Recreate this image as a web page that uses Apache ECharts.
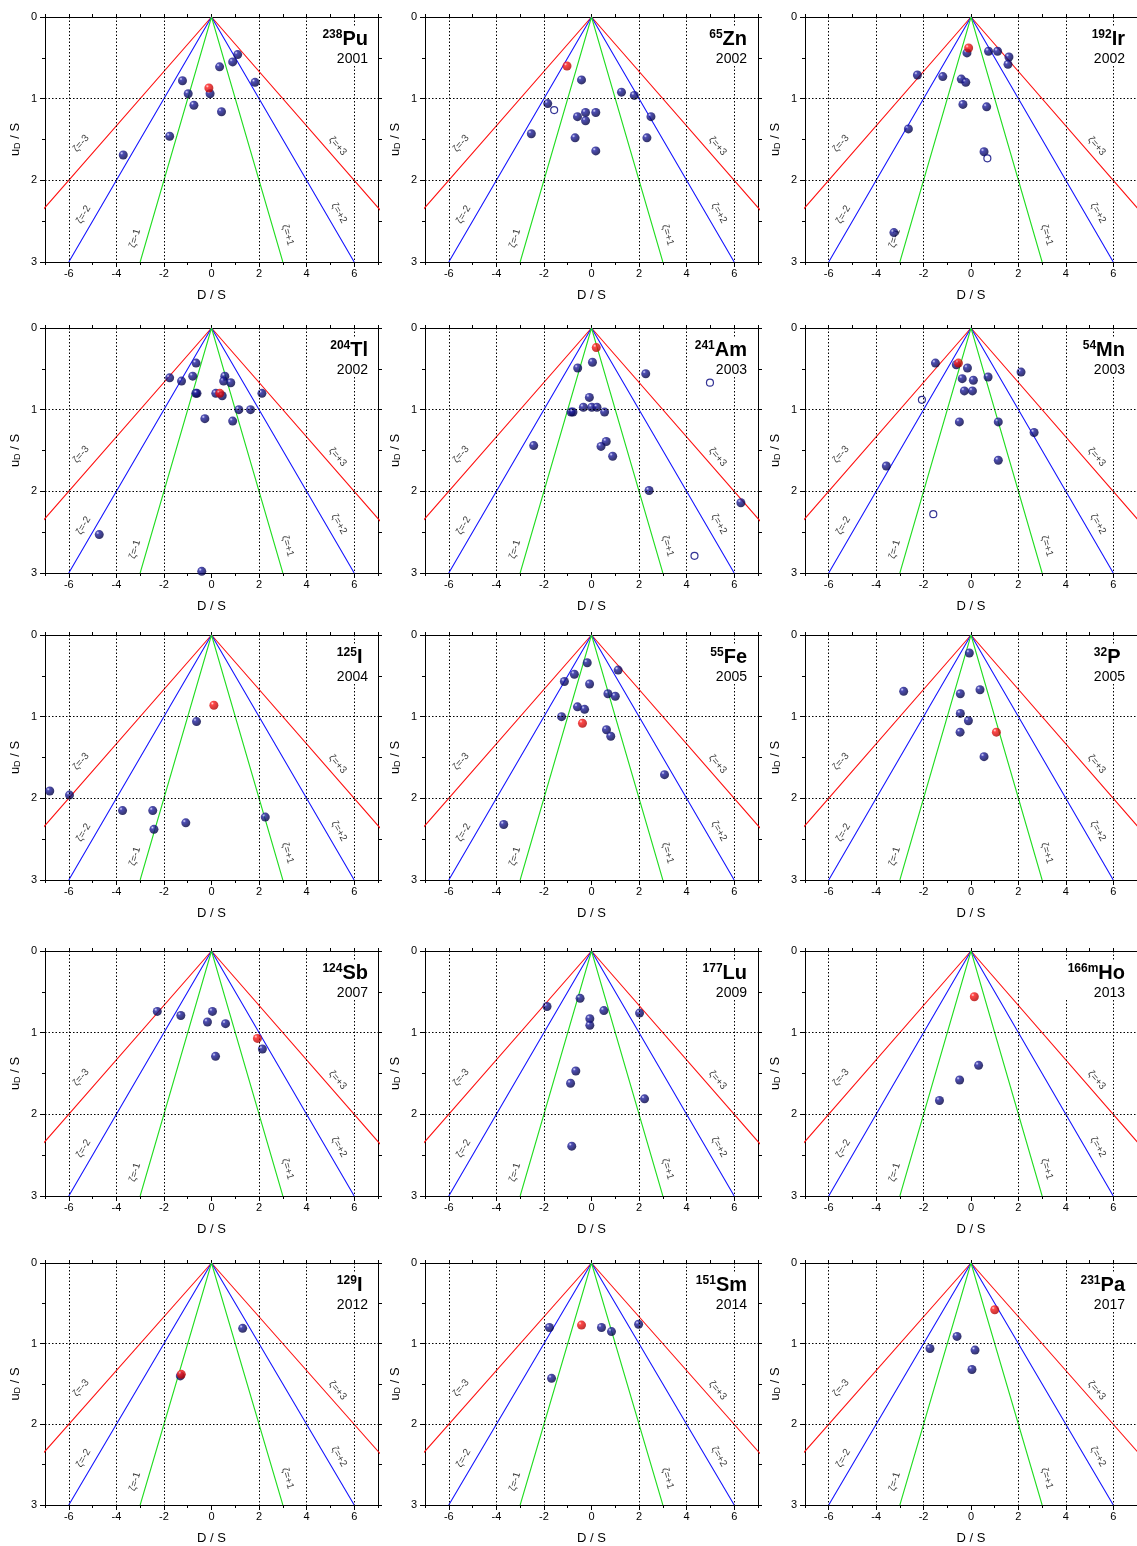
<!DOCTYPE html>
<html>
<head>
<meta charset="utf-8">
<title>PomPlots</title>
<script src="https://cdn.jsdelivr.net/npm/echarts@6/dist/echarts.min.js"></script>
<style>
  html, body { margin: 0; padding: 0; background: #fff; }
  #chart { width: 1137px; height: 1546px; }
</style>
</head>
<body>
<div id="chart"></div>
<script>
// Axis ticks and reference lines
const xTicks = [-6, -4, -2, 0, 2, 4, 6];
const xMinorTicks = [-7, -5, -3, -1, 1, 3, 5, 7];
const xAllTicks = [-7, -6, -5, -4, -3, -2, -1, 0, 1, 2, 3, 4, 5, 6, 7];
const yTicks = [0, 1, 2, 3];
const yMinorTicks = [0.5, 1.5, 2.5];
const yAllTicks = [0, 0.5, 1, 1.5, 2, 2.5, 3];
const xGridValues = [-6, -4, -2, 2, 4, 6];
const yGridValues = [1, 2];
const zetaLevels = [1, 2, 3];

// Measurements: [D/S, uD/S]; "Ref" marks the highlighted laboratory, "Open" the open symbols
const pu238 = [[1.10,0.46],[0.89,0.55],[0.34,0.61],[1.83,0.80],[-1.22,0.78],[-0.98,0.94],[-0.06,0.94],[-0.74,1.08],[0.42,1.16],[-1.76,1.46],[-3.71,1.69]];
const pu238Ref = [[-0.11,0.87]];
const pu238Open = [];

const zn65 = [[-0.42,0.77],[1.26,0.92],[1.80,0.96],[-1.84,1.06],[-0.25,1.17],[0.18,1.17],[-0.59,1.22],[2.50,1.22],[-0.25,1.27],[-2.53,1.43],[-0.69,1.48],[2.33,1.48],[0.18,1.64]];
const zn65Ref = [[-1.03,0.60]];
const zn65Open = [[-1.57,1.14]];

const ir192 = [[-0.17,0.44],[0.74,0.42],[1.12,0.42],[1.60,0.49],[1.56,0.58],[-2.26,0.71],[-1.19,0.73],[-0.41,0.76],[-0.22,0.80],[-0.34,1.07],[0.66,1.10],[-2.64,1.37],[0.55,1.65],[-3.25,2.64]];
const ir192Ref = [[-0.10,0.38]];
const ir192Open = [[0.69,1.73]];

const tl204 = [[-0.65,0.43],[-1.76,0.61],[-1.26,0.65],[-0.79,0.59],[0.56,0.59],[0.51,0.65],[0.81,0.67],[-0.66,0.80],[-0.61,0.80],[0.18,0.80],[0.45,0.83],[2.12,0.80],[1.15,1.00],[1.64,1.00],[-0.28,1.11],[0.89,1.14],[-4.72,2.53],[-0.41,2.98]];
const tl204Ref = [[0.35,0.80]];
const tl204Open = [];

const am241 = [[0.04,0.42],[-0.58,0.49],[2.28,0.56],[-0.09,0.85],[-0.34,0.97],[0.01,0.97],[0.23,0.97],[-0.86,1.03],[-0.78,1.03],[0.55,1.03],[0.62,1.39],[0.40,1.45],[-2.43,1.44],[0.89,1.57],[2.42,1.99],[6.28,2.14]];
const am241Ref = [[0.20,0.24]];
const am241Open = [[4.98,0.67],[4.33,2.79]];

const mn54 = [[-1.50,0.43],[-0.62,0.45],[-0.15,0.49],[2.11,0.54],[-0.37,0.62],[0.10,0.64],[0.72,0.60],[-0.28,0.77],[0.06,0.77],[-0.49,1.15],[1.15,1.15],[2.66,1.28],[-3.57,1.69],[1.15,1.62]];
const mn54Ref = [[-0.53,0.43]];
const mn54Open = [[-2.07,0.88],[-1.59,2.28]];

const i125 = [[-0.63,1.06],[-6.80,1.91],[-5.97,1.96],[-3.74,2.15],[-2.47,2.15],[-2.42,2.38],[-1.08,2.30],[2.26,2.23]];
const i125Ref = [[0.10,0.86]];
const i125Open = [];

const fe55 = [[-0.18,0.34],[1.12,0.43],[-0.72,0.48],[-1.14,0.57],[-0.08,0.60],[0.69,0.72],[1.00,0.75],[-0.59,0.88],[-0.29,0.91],[-1.26,1.00],[0.63,1.16],[0.81,1.24],[3.07,1.71],[-3.69,2.32]];
const fe55Ref = [[-0.38,1.08]];
const fe55Open = [];

const p32 = [[-0.07,0.22],[-2.84,0.69],[-0.45,0.72],[0.38,0.67],[-0.45,0.96],[-0.11,1.05],[-0.46,1.19],[0.55,1.49]];
const p32Ref = [[1.07,1.19]];
const p32Open = [];

const sb124 = [[-2.28,0.74],[-1.29,0.79],[0.04,0.74],[-0.17,0.87],[0.59,0.89],[2.14,1.20],[0.17,1.29]];
const sb124Ref = [[1.93,1.07]];
const sb124Open = [];

const lu177 = [[-0.48,0.58],[-1.87,0.68],[0.52,0.73],[2.02,0.76],[-0.07,0.83],[-0.07,0.91],[-0.66,1.47],[-0.88,1.62],[2.23,1.81],[-0.83,2.39]];
const lu177Ref = [];
const lu177Open = [];

const ho166m = [[0.32,1.40],[-0.48,1.58],[-1.33,1.83]];
const ho166mRef = [[0.14,0.56]];
const ho166mOpen = [];

const i129 = [[1.31,0.81],[-1.31,1.40]];
const i129Ref = [[-1.27,1.38]];
const i129Open = [];

const sm151 = [[-1.77,0.80],[-1.68,1.43],[0.42,0.80],[0.84,0.85],[1.98,0.76]];
const sm151Ref = [[-0.42,0.77]];
const sm151Open = [];

const pa231 = [[-1.73,1.06],[-0.59,0.91],[0.17,1.08],[0.04,1.32]];
const pa231Ref = [[1.00,0.58]];
const pa231Open = [];

// Panel headings: mass number, element, year
const massNumbers = ['238','65','192','204','241','54','125','55','32','124','177','166m','129','151','231'];
const elements = ['Pu','Zn','Ir','Tl','Am','Mn','I','Fe','P','Sb','Lu','Ho','I','Sm','Pa'];
const years = ['2001','2002','2002','2002','2003','2003','2004','2005','2005','2007','2009','2013','2012','2014','2017'];
const panelPoints = [pu238, zn65, ir192, tl204, am241, mn54, i125, fe55, p32, sb124, lu177, ho166m, i129, sm151, pa231];
const panelRefs = [pu238Ref, zn65Ref, ir192Ref, tl204Ref, am241Ref, mn54Ref, i125Ref, fe55Ref, p32Ref, sb124Ref, lu177Ref, ho166mRef, i129Ref, sm151Ref, pa231Ref];
const panelOpen = [pu238Open, zn65Open, ir192Open, tl204Open, am241Open, mn54Open, i125Open, fe55Open, p32Open, sb124Open, lu177Open, ho166mOpen, i129Open, sm151Open, pa231Open];

// Layout
const colLeft = [45, 425, 805];
const rowTop = [17, 328, 635, 951, 1263];
const gridW = 333, gridH = 245;
const titleRight = [766, 387, 9];
const FONT = '"Liberation Sans", Arial, Helvetica, sans-serif';

const zetaColors = { 1: '#22dd22', 2: '#1414ff', 3: '#ff1010' };
// placement of the zeta captions: [D/S, uD/S, rotation, caption]
const zetaCaptions = [
  [-5.48, 1.55, 49, 'ζ=-3'], [-5.38, 2.42, 60, 'ζ=-2'], [-3.22, 2.71, 74, 'ζ=-1'],
  [5.30, 1.58, -49, 'ζ=+3'], [5.36, 2.40, -60, 'ζ=+2'], [3.20, 2.67, -74, 'ζ=+1']
];

const navyBall = {
  type: 'radial', x: 0.33, y: 0.3, r: 0.72,
  colorStops: [
    { offset: 0, color: '#d8d8ff' },
    { offset: 0.25, color: '#2020a0' },
    { offset: 1, color: '#000040' }
  ]
};
const redBall = {
  type: 'radial', x: 0.33, y: 0.3, r: 0.72,
  colorStops: [
    { offset: 0, color: '#ffd8d8' },
    { offset: 0.25, color: '#ff1a1a' },
    { offset: 1, color: '#b00000' }
  ]
};

const grids = [], xAxes = [], yAxes = [], series = [], titles = [];
const black = { color: '#000', width: 1 };

panelPoints.forEach((pts, i) => {
  const r = Math.floor(i / 3), c = i % 3;
  grids.push({ left: colLeft[c], top: rowTop[r], width: gridW, height: gridH, containLabel: false });

  const xi = xAxes.length, yi = yAxes.length;
  xAxes.push({
    gridIndex: i, type: 'value', min: -7, max: 7, position: 'bottom',
    axisLine: { show: true, onZero: false, lineStyle: black },
    axisTick: { show: true, customValues: xTicks, length: 5, lineStyle: black },
    axisLabel: { show: true, customValues: xTicks, color: '#000', fontSize: 11, fontFamily: FONT, margin: 6 },
    splitLine: { show: false },
    name: 'D / S', nameLocation: 'middle', nameGap: 27,
    nameTextStyle: { color: '#000', fontSize: 13, fontFamily: FONT }
  });
  xAxes.push({
    gridIndex: i, type: 'value', min: -7, max: 7, position: 'bottom',
    axisLine: { show: false, onZero: false },
    axisTick: { show: true, customValues: xMinorTicks, length: 3, lineStyle: black },
    axisLabel: { show: false }, splitLine: { show: false }
  });
  xAxes.push({
    gridIndex: i, type: 'value', min: -7, max: 7, position: 'top',
    axisLine: { show: true, onZero: false, lineStyle: black },
    axisTick: { show: true, customValues: xAllTicks, length: 3, lineStyle: black },
    axisLabel: { show: false }, splitLine: { show: false }
  });

  yAxes.push({
    gridIndex: i, type: 'value', min: 0, max: 3, inverse: true, position: 'left',
    axisLine: { show: true, onZero: false, lineStyle: black },
    axisTick: { show: true, customValues: yTicks, length: 5, lineStyle: black },
    axisLabel: { show: true, customValues: yTicks, color: '#000', fontSize: 11, fontFamily: FONT, margin: 8 },
    splitLine: { show: false },
    name: '{a|u}{b|D}{a| / S}', nameLocation: 'middle', nameGap: 23, nameRotate: 90,
    nameTextStyle: {
      color: '#000', fontFamily: FONT,
      rich: {
        a: { fontSize: 13, lineHeight: 13, verticalAlign: 'top', fontFamily: FONT, color: '#000' },
        b: { fontSize: 9, lineHeight: 9, padding: [8, 0, 0, 0], verticalAlign: 'bottom', fontFamily: FONT, color: '#000' }
      }
    }
  });
  yAxes.push({
    gridIndex: i, type: 'value', min: 0, max: 3, inverse: true, position: 'left',
    axisLine: { show: false, onZero: false },
    axisTick: { show: true, customValues: yMinorTicks, length: 3, lineStyle: black },
    axisLabel: { show: false }, splitLine: { show: false }
  });
  yAxes.push({
    gridIndex: i, type: 'value', min: 0, max: 3, inverse: true, position: 'right',
    axisLine: { show: true, onZero: false, lineStyle: black },
    axisTick: { show: true, customValues: yAllTicks, length: 4, lineStyle: black },
    axisLabel: { show: false }, splitLine: { show: false }
  });

  const ax = { xAxisIndex: xi, yAxisIndex: yi };

  // dotted grid
  series.push(Object.assign({
    type: 'line', data: [], silent: true, z: 1,
    markLine: {
      silent: true, symbol: 'none', animation: false,
      label: { show: false },
      lineStyle: { color: '#000', width: 1, type: [1.5, 2] },
      data: xGridValues.map(v => ({ xAxis: v })).concat(yGridValues.map(v => ({ yAxis: v })))
    }
  }, ax));

  // zeta lines: D/S = zeta * uD/S
  zetaLevels.slice().reverse().forEach(z => {
    series.push(Object.assign({
      type: 'line', silent: true, symbol: 'none', clip: true, z: 2,
      lineStyle: { color: zetaColors[z], width: 1.1 },
      data: [[-3 * z, 3], [0, 0], [3 * z, 3]]
    }, ax));
  });

  // zeta captions
  series.push(Object.assign({
    type: 'scatter', silent: true, symbolSize: 0, z: 3,
    data: zetaCaptions.map(d => ({
      value: [d[0], d[1]],
      label: { show: true, position: 'inside', formatter: d[3], rotate: d[2],
               color: '#000', fontSize: 10, fontFamily: FONT }
    }))
  }, ax));

  // laboratories
  series.push(Object.assign({
    type: 'scatter', silent: true, symbol: 'circle', symbolSize: 9, z: 4,
    itemStyle: { color: navyBall, borderWidth: 0 },
    data: pts
  }, ax));
  series.push(Object.assign({
    type: 'scatter', silent: true, symbol: 'circle', symbolSize: 7, z: 4,
    itemStyle: { color: '#fff', borderColor: '#00007a', borderWidth: 1.2 },
    data: panelOpen[i]
  }, ax));
  series.push(Object.assign({
    type: 'scatter', silent: true, symbol: 'circle', symbolSize: 9, z: 5,
    itemStyle: { color: redBall, borderWidth: 0 },
    data: panelRefs[i]
  }, ax));

  titles.push({
    text: '{sup|' + massNumbers[i] + '}{el|' + elements[i] + '}\n{yr|' + years[i] + '}',
    right: titleRight[c], top: rowTop[r] + 10,
    backgroundColor: '#fff', padding: [2, 3, 0, 3],
    textStyle: {
      fontWeight: 'normal',
      rich: {
        sup: { fontSize: 12, fontWeight: 'bold', lineHeight: 12, verticalAlign: 'top', color: '#000', fontFamily: FONT },
        el: { fontSize: 20, fontWeight: 'bold', lineHeight: 20, verticalAlign: 'top', color: '#000', fontFamily: FONT },
        yr: { fontSize: 14, fontWeight: 'normal', lineHeight: 20, color: '#000', fontFamily: FONT, align: 'right' }
      }
    }
  });
});

const chart = echarts.init(document.getElementById('chart'), null, { renderer: 'canvas' });
chart.setOption({
  animation: false,
  backgroundColor: '#fff',
  title: titles,
  grid: grids,
  xAxis: xAxes,
  yAxis: yAxes,
  series: series
});
</script>
</body>
</html>
